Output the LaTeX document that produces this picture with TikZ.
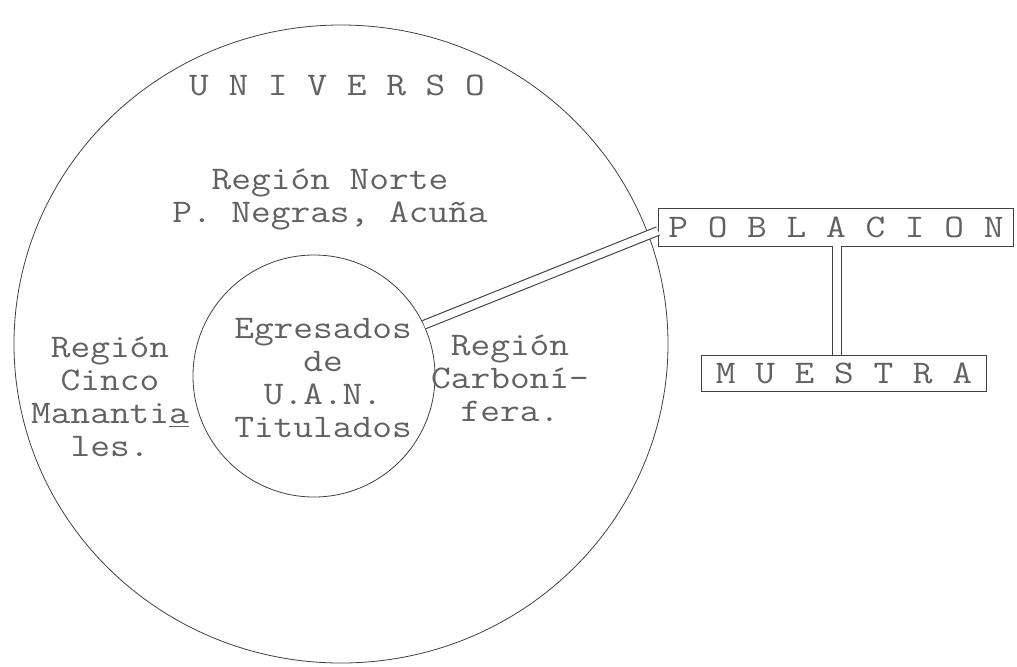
\documentclass[tikz,border=0pt]{standalone}
\usepackage{fontspec}
\newfontfamily\maquina[FakeStretch=1.16]{Latin Modern Mono}
\usetikzlibrary{shapes.geometric}

\begin{document}
\begin{tikzpicture}[
            x=0.5pt, y=-0.5pt,
            typed/.style={font=\maquina\fontsize{16.5}{16.5}\selectfont,text=inkgray,align=center,inner sep=0pt},
            dbl/.style={draw=penblack,double,double distance=3.8pt,line width=0.55pt}
        ]
            \colorlet{inkgray}{black!62}
            \colorlet{penblack}{black!75}
            \useasboundingbox (0,0) rectangle (1017,666);

            % los dos circulos
            \node (universo)  [ellipse,draw=penblack,minimum width=327pt,minimum height=319pt,inner sep=0pt] at (341,344) {};
            \node (egresados) [circle,draw=penblack,minimum size=121pt,inner sep=0pt]                       at (314,376) {};

            \node (titulo) [typed] at (337,85)  {U N I V E R S O};
            \node (norte)  [typed] at (330,199) {Región Norte\\P. Negras, Acuña};
            \node (cinco)  [typed] at (110,397) {Región\\Cinco\\Mananti\underline{a}\\les.};
            \node (egtext) [typed] at (323,378) {Egresados\\de\\U.A.N.\\Titulados};
            \node (carbon) [typed] at (510,378) {Región\\Carboní-\\fera.};

            % cajas
            \node (poblacion) [draw=penblack,typed,inner xsep=5pt,minimum height=19pt,anchor=west] at (658,227) {P O B L A C I O N};
            \node (muestra)   [draw=penblack,typed,inner xsep=7pt,minimum height=18pt]             at (844,373) {M U E S T R A};

            \draw [dbl] (egresados.25) -- ([yshift=-2pt]poblacion.west);
            \draw [dbl] ([xshift=-3.5pt]muestra.north) -- ([xshift=-3.5pt]muestra.north |- poblacion.south);
        \end{tikzpicture}
\end{document}
